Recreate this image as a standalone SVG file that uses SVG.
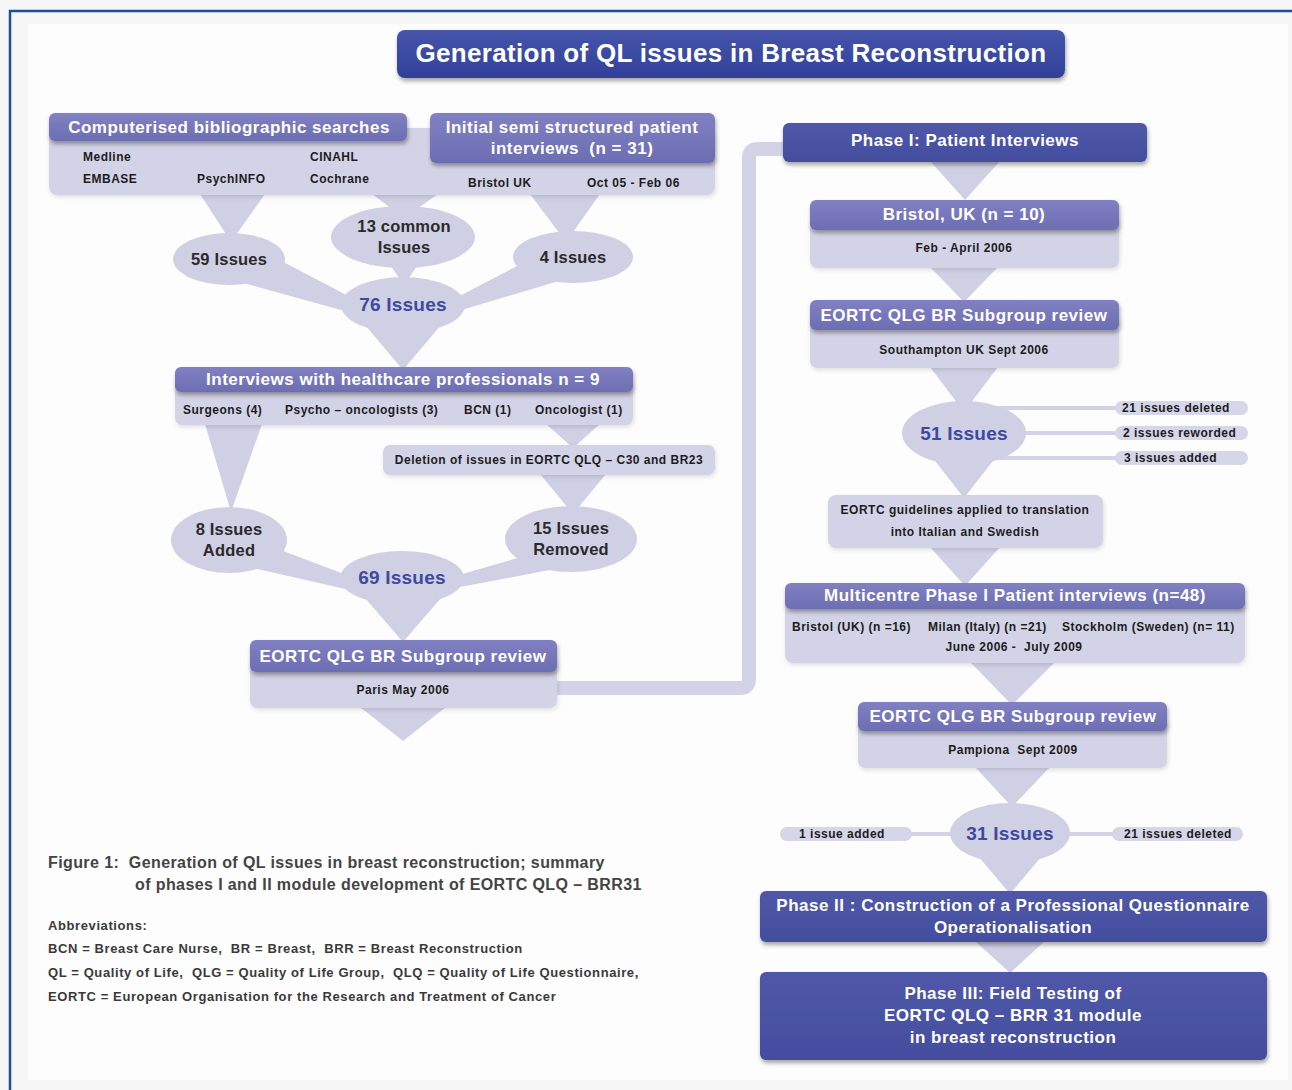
<svg xmlns="http://www.w3.org/2000/svg" width="1292" height="1090" viewBox="0 0 1292 1090">
<defs>
<filter id="sh" x="-10%" y="-30%" width="120%" height="170%">
<feDropShadow dx="1" dy="3" stdDeviation="2" flood-color="#000" flood-opacity="0.35"/>
</filter>
<filter id="shl" x="-10%" y="-30%" width="120%" height="170%">
<feDropShadow dx="1" dy="2" stdDeviation="2" flood-color="#000" flood-opacity="0.12"/>
</filter>
<linearGradient id="gTitle" x1="0" y1="0" x2="0" y2="1">
<stop offset="0" stop-color="#4655aa"/><stop offset="1" stop-color="#30409a"/>
</linearGradient>
<linearGradient id="gDark" x1="0" y1="0" x2="0" y2="1">
<stop offset="0" stop-color="#5058a8"/><stop offset="1" stop-color="#444d9f"/>
</linearGradient>
<linearGradient id="gHead" x1="0" y1="0" x2="0" y2="1">
<stop offset="0" stop-color="#8080c2"/><stop offset="1" stop-color="#6d6db3"/>
</linearGradient>
<style>
.body{fill:#d3d3e7;filter:url(#shl)}
.head{fill:url(#gHead);filter:url(#sh)}
.dark{fill:url(#gDark);filter:url(#sh)}
.bub{fill:#d0d0e5}
.tri{fill:#d0d0e5}
.pill{fill:#d6d6e9}
.ln{stroke:#d3d3e7;stroke-width:4;fill:none}
text{font-family:"Liberation Sans",Arial,sans-serif;font-weight:bold}
.ht{fill:#fff;font-size:17px;letter-spacing:0.5px;text-anchor:middle}
.st{fill:#1c1c1c;font-size:12px;letter-spacing:0.5px}
.sc{fill:#1c1c1c;font-size:12px;letter-spacing:0.5px;text-anchor:middle}
.bt{fill:#2a2a2a;font-size:16.5px;letter-spacing:0.2px;text-anchor:middle}
.blue{fill:#3c4aa0;font-size:19px;letter-spacing:0.2px;text-anchor:middle}
.cap{fill:#444;font-size:16px;letter-spacing:0.4px}
.abb{fill:#3a3a3a;font-size:13px;letter-spacing:0.6px}
</style>
</defs>
<rect width="1292" height="1090" fill="#f6f6f6"/>
<rect x="28" y="24" width="1260" height="1056" fill="#fdfdfd"/>
<path d="M10,1090 V11 H1292" fill="none" stroke="#1f4e96" stroke-width="2.5"/>

<g id="connectors">
<path d="M557,688 H740 Q749,688 749,679 V158 Q749,149 758,149 H790" fill="none" stroke="#d3d3e7" stroke-width="14"/>
<polygon class="tri" points="200,194 265,194 231,242"/>
<polygon class="tri" points="372,194 438,194 404,218"/>
<polygon class="tri" points="530,194 600,194 566,242"/>
<polygon class="tri" points="240,282 270,255 356,300 352,313"/>
<polygon class="tri" points="388,262 420,262 404,285"/>
<polygon class="tri" points="548,250 562,280 455,312 452,300"/>
<polygon class="tri" points="365,325 441,325 403,370"/>
<polygon class="tri" points="205,424 262,424 231,512"/>
<polygon class="tri" points="546,424 600,424 573,448"/>
<polygon class="tri" points="540,474 606,474 573,514"/>
<polygon class="tri" points="240,565 262,543 352,577 350,590"/>
<polygon class="tri" points="545,550 560,568 455,588 452,577"/>
<polygon class="tri" points="365,598 441,598 403,642"/>
<polygon class="tri" points="360,707 446,707 403,741"/>
<polygon class="tri" points="930,161 1000,161 965,200"/>
<polygon class="tri" points="930,267 998,267 964,302"/>
<polygon class="tri" points="930,367 998,367 964,412"/>
<polygon class="tri" points="928,452 1000,452 964,498"/>
<polygon class="tri" points="930,547 1000,547 965,586"/>
<polygon class="tri" points="970,662 1055,662 1012,705"/>
<polygon class="tri" points="975,767 1050,767 1012,807"/>
<polygon class="tri" points="973,850 1047,850 1010,894"/>
<polygon class="tri" points="975,941 1045,941 1010,973"/>
<path class="ln" d="M970,408 H1120 M1000,433 H1120 M970,458 H1120"/>
<path class="ln" d="M905,834 H1010 M1010,834 H1118"/>
</g>

<g id="title">
<rect x="397" y="30" width="668" height="48" rx="8" fill="url(#gTitle)" filter="url(#sh)"/>
<text x="731" y="62" fill="#fff" font-size="26" letter-spacing="0.3" text-anchor="middle">Generation of QL issues in Breast Reconstruction</text>
</g>

<g id="sources-body">
<rect class="body" x="49" y="128" width="666" height="67" rx="8"/>
<text class="st" x="83" y="161">Medline</text>
<text class="st" x="310" y="161">CINAHL</text>
<text class="st" x="83" y="183">EMBASE</text>
<text class="st" x="197" y="183">PsychINFO</text>
<text class="st" x="310" y="183">Cochrane</text>
<text class="st" x="468" y="187">Bristol UK</text>
<text class="st" x="587" y="187">Oct 05 - Feb 06</text>
</g>
<g id="biblio">
<rect class="head" x="49" y="113" width="358" height="28" rx="6"/>
<text class="ht" x="229" y="133">Computerised bibliographic searches</text>
</g>
<g id="initial">
<rect class="head" x="430" y="113" width="285" height="50" rx="6"/>
<text class="ht" x="572" y="133">Initial semi structured patient</text>
<text class="ht" x="572" y="154" xml:space="preserve">interviews  (n = 31)</text>
</g>

<g id="i59">
<ellipse class="bub" cx="229" cy="259" rx="56" ry="26"/>
<text class="bt" x="229" y="265">59 Issues</text>
</g>
<g id="i13">
<ellipse class="bub" cx="403" cy="237" rx="72" ry="31"/>
<text class="bt" x="404" y="232">13 common</text>
<text class="bt" x="404" y="253">Issues</text>
</g>
<g id="i4">
<ellipse class="bub" cx="573" cy="257" rx="60" ry="26"/>
<text class="bt" x="573" y="263">4 Issues</text>
</g>
<g id="i76">
<ellipse class="bub" cx="403" cy="305" rx="62" ry="28"/>
<text class="blue" x="403" y="311">76 Issues</text>
</g>

<g id="hcp">
<rect class="body" x="175" y="378" width="458" height="47" rx="7"/>
<rect class="head" x="175" y="367" width="458" height="25" rx="6"/>
<text class="ht" x="403" y="385" font-size="16.5">Interviews with healthcare professionals n = 9</text>
<text class="st" x="183" y="414">Surgeons (4)</text>
<text class="st" x="285" y="414">Psycho – oncologists (3)</text>
<text class="st" x="464" y="414">BCN (1)</text>
<text class="st" x="535" y="414">Oncologist (1)</text>
</g>

<g id="deletion">
<rect class="body" x="383" y="445" width="332" height="30" rx="7"/>
<text class="sc" x="549" y="464">Deletion of issues in EORTC QLQ – C30 and BR23</text>
</g>

<g id="i8">
<ellipse class="bub" cx="229" cy="540" rx="58" ry="33"/>
<text class="bt" x="229" y="535">8 Issues</text>
<text class="bt" x="229" y="556">Added</text>
</g>
<g id="i15">
<ellipse class="bub" cx="571" cy="539" rx="66" ry="33"/>
<text class="bt" x="571" y="534">15 Issues</text>
<text class="bt" x="571" y="555">Removed</text>
</g>
<g id="i69">
<ellipse class="bub" cx="402" cy="578" rx="62" ry="27"/>
<text class="blue" x="402" y="584">69 Issues</text>
</g>

<g id="paris">
<rect class="body" x="250" y="655" width="307" height="53" rx="7"/>
<rect class="head" x="250" y="640" width="307" height="32" rx="6"/>
<text class="ht" x="403" y="662" font-size="18">EORTC QLG BR Subgroup review</text>
<text class="sc" x="403" y="694">Paris May 2006</text>
</g>

<g id="phase1">
<rect class="dark" x="783" y="123" width="364" height="39" rx="6"/>
<text class="ht" x="965" y="146" font-size="16.5">Phase I: Patient Interviews</text>
</g>

<g id="bristol">
<rect class="body" x="810" y="215" width="309" height="53" rx="7"/>
<rect class="head" x="810" y="200" width="309" height="30" rx="6"/>
<text class="ht" x="964" y="220">Bristol, UK (n = 10)</text>
<text class="sc" x="964" y="252">Feb - April 2006</text>
</g>

<g id="southampton">
<rect class="body" x="810" y="315" width="309" height="53" rx="7"/>
<rect class="head" x="810" y="300" width="309" height="30" rx="6"/>
<text class="ht" x="964" y="321" font-size="18">EORTC QLG BR Subgroup review</text>
<text class="sc" x="964" y="354">Southampton UK Sept 2006</text>
</g>

<g id="i51">
<ellipse class="bub" cx="964" cy="433" rx="62" ry="32"/>
<text class="blue" x="964" y="440">51 Issues</text>
</g>
<g id="p21del">
<rect class="pill" x="1115" y="401" width="133" height="14" rx="7"/>
<text class="st" x="1122" y="412">21 issues deleted</text>
</g>
<g id="p2rew">
<rect class="pill" x="1115" y="426" width="133" height="14" rx="7"/>
<text class="st" x="1123" y="437">2 issues reworded</text>
</g>
<g id="p3add">
<rect class="pill" x="1115" y="451" width="133" height="14" rx="7"/>
<text class="st" x="1124" y="462">3 issues added</text>
</g>

<g id="guidelines">
<rect class="body" x="828" y="495" width="275" height="53" rx="8"/>
<text class="sc" x="965" y="514">EORTC guidelines applied to translation</text>
<text class="sc" x="965" y="536">into Italian and Swedish</text>
</g>

<g id="multicentre">
<rect class="body" x="785" y="597" width="460" height="66" rx="8"/>
<rect class="head" x="785" y="583" width="460" height="26" rx="6"/>
<text class="ht" x="1015" y="601" font-size="16.5">Multicentre Phase I Patient interviews (n=48)</text>
<text class="st" x="792" y="631">Bristol (UK) (n =16)</text>
<text class="st" x="928" y="631">Milan (Italy) (n =21)</text>
<text class="st" x="1062" y="631">Stockholm (Sweden) (n= 11)</text>
<text class="sc" x="1014" y="651" xml:space="preserve">June 2006 -  July 2009</text>
</g>

<g id="pampiona">
<rect class="body" x="858" y="716" width="309" height="52" rx="7"/>
<rect class="head" x="858" y="702" width="309" height="29" rx="6"/>
<text class="ht" x="1013" y="722" font-size="18">EORTC QLG BR Subgroup review</text>
<text class="sc" x="1013" y="754" xml:space="preserve">Pampiona  Sept 2009</text>
</g>

<g id="i31">
<ellipse class="bub" cx="1010" cy="833" rx="60" ry="30"/>
<text class="blue" x="1010" y="840">31 Issues</text>
</g>
<g id="p1add">
<rect class="pill" x="780" y="827" width="132" height="14" rx="7"/>
<text class="sc" x="842" y="838">1 issue added</text>
</g>
<g id="p21del2">
<rect class="pill" x="1112" y="827" width="131" height="14" rx="7"/>
<text class="sc" x="1178" y="838">21 issues deleted</text>
</g>

<g id="phase2">
<rect class="dark" x="760" y="891" width="507" height="51" rx="6"/>
<text class="ht" x="1013" y="911">Phase II : Construction of a Professional Questionnaire</text>
<text class="ht" x="1013" y="933">Operationalisation</text>
</g>

<g id="phase3">
<rect class="dark" x="760" y="972" width="507" height="88" rx="6"/>
<text class="ht" x="1013" y="999">Phase III: Field Testing of</text>
<text class="ht" x="1013" y="1021">EORTC QLQ – BRR 31 module</text>
<text class="ht" x="1013" y="1043">in breast reconstruction</text>
</g>

<g id="caption">
<text class="cap" x="48" y="868" xml:space="preserve">Figure 1:  Generation of QL issues in breast reconstruction; summary</text>
<text class="cap" x="135" y="890">of phases I and II module development of EORTC QLQ – BRR31</text>
<text class="abb" x="48" y="930">Abbreviations:</text>
<text class="abb" x="48" y="953" xml:space="preserve">BCN = Breast Care Nurse,  BR = Breast,  BRR = Breast Reconstruction</text>
<text class="abb" x="48" y="977" xml:space="preserve">QL = Quality of Life,  QLG = Quality of Life Group,  QLQ = Quality of Life Questionnaire,</text>
<text class="abb" x="48" y="1001">EORTC = European Organisation for the Research and Treatment of Cancer</text>
</g>
</svg>
